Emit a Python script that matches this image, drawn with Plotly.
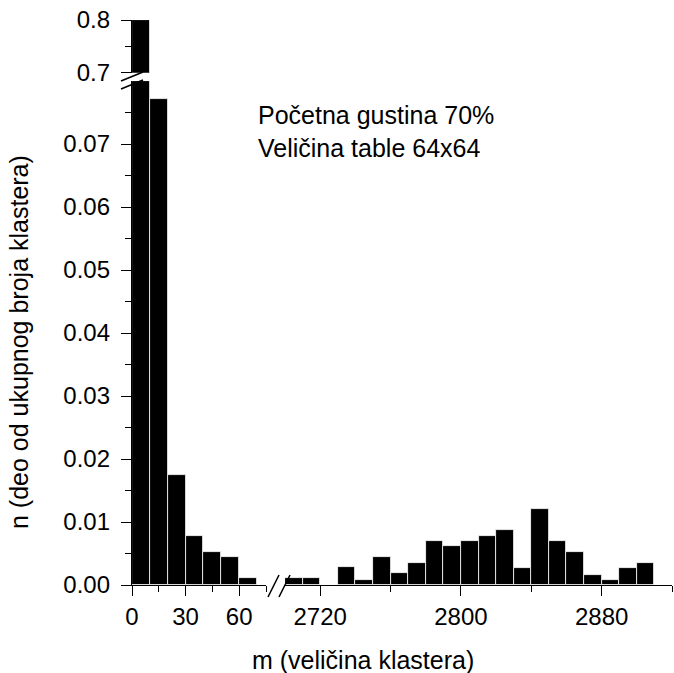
import plotly.graph_objects as go

# ---- data ----
left_bins = [5, 15, 25, 35, 45, 55, 65]
left_vals = [0.0800, 0.0771, 0.0174, 0.0078, 0.0052, 0.0044, 0.0011]
top_bins = [5]
top_vals = [0.80]
right_bins = [2705, 2715, 2725, 2735, 2745, 2755, 2765, 2775, 2785, 2795, 2805,
              2815, 2825, 2835, 2845, 2855, 2865, 2875, 2885, 2895, 2905, 2915]
right_vals = [0.0011, 0.0011, 0.0, 0.0028, 0.0008, 0.0044, 0.0019, 0.0035, 0.0070, 0.0062, 0.0070,
              0.0078, 0.0087, 0.0027, 0.0121, 0.0070, 0.0052, 0.0016, 0.0008, 0.0027, 0.0035, 0.0]
y_ticks_low = [0.00, 0.01, 0.02, 0.03, 0.04, 0.05, 0.06, 0.07]
y_ticks_low_minor = [0.005, 0.015, 0.025, 0.035, 0.045, 0.055, 0.065, 0.075]
y_ticks_high = [0.7, 0.8]
y_ticks_high_minor = [0.75]
x_ticks_left = [0, 30, 60]
x_ticks_left_minor = [15, 45, 75]
x_ticks_right = [2720, 2800, 2880]
x_ticks_right_minor = [2760, 2840, 2920]
bin_width = 10

W, H = 674, 673
L, R, T, B = 132, 2, 20, 88
pw, ph = W - L - R, H - T - B

def px(xp):
    return (xp - L) / pw

def py(yp):
    return (H - B - yp) / ph

dL = px(266)
dR = px(285)
dB = py(81)
dT = py(72.7)

FONT = "Liberation Sans, Arial, sans-serif"
bar_style = dict(marker=dict(color="black", line=dict(color="white", width=0.8)),
                 width=bin_width, showlegend=False, hoverinfo="x+y")

fig = go.Figure()
fig.add_trace(go.Bar(x=left_bins, y=left_vals, xaxis="x", yaxis="y", **bar_style))
fig.add_trace(go.Bar(x=right_bins, y=right_vals, xaxis="x2", yaxis="y", **bar_style))
fig.add_trace(go.Bar(x=top_bins, y=top_vals, xaxis="x3", yaxis="y2", **bar_style))

tick_common = dict(ticks="outside", ticklen=10, tickwidth=1.3, tickcolor="black",
                   showline=True, linecolor="black", linewidth=1.3,
                   showgrid=False, zeroline=False,
                   tickfont=dict(family=FONT, size=24, color="black"))
minor_common = dict(tickmode="array", ticks="outside", ticklen=6, tickwidth=1.3, tickcolor="black")

fig.update_layout(
    width=W, height=H,
    margin=dict(l=L, r=R, t=T, b=B),
    plot_bgcolor="white", paper_bgcolor="white",
    bargap=0,
    font=dict(family=FONT, color="black"),
    xaxis=dict(domain=[0, dL], range=[0, 75], anchor="y",
               tickmode="array", tickvals=x_ticks_left,
               minor=dict(tickvals=x_ticks_left_minor, **minor_common),
               **tick_common),
    xaxis2=dict(domain=[dR, 1], range=[2700, 2920], anchor="y",
                tickmode="array", tickvals=x_ticks_right,
                minor=dict(tickvals=x_ticks_right_minor, **minor_common),
                **tick_common),
    xaxis3=dict(domain=[0, dL], range=[0, 75], anchor="y2", visible=False),
    yaxis=dict(domain=[0, dB], range=[0, 0.08], anchor="x",
               tickmode="array", tickvals=y_ticks_low, tickformat=".2f",
               minor=dict(tickvals=y_ticks_low_minor, **minor_common),
               ticklabelstandoff=6,
               **tick_common),
    yaxis2=dict(domain=[dT, 1], range=[0.7, 0.8], anchor="x3",
                tickmode="array", tickvals=y_ticks_high, tickformat=".1f",
                minor=dict(tickvals=y_ticks_high_minor, **minor_common),
                ticklabelstandoff=6,
                **tick_common),
)

# axis titles
fig.add_annotation(text="m (veličina klastera)", xref="paper", yref="paper",
                   x=px(250), y=py(660), xanchor="left", yanchor="middle", showarrow=False,
                   font=dict(family=FONT, size=25, color="black"))
fig.add_annotation(text="n (deo od ukupnog broja klastera)", xref="paper", yref="paper",
                   x=px(19), y=py(342), xanchor="center", yanchor="middle", showarrow=False,
                   textangle=-90, font=dict(family=FONT, size=25, color="black"))
fig.add_annotation(text="Početna gustina 70%", xref="paper", yref="paper",
                   x=px(256), y=py(115), xanchor="left", yanchor="middle", showarrow=False,
                   font=dict(family=FONT, size=25, color="black"))
fig.add_annotation(text="Veličina table 64x64", xref="paper", yref="paper",
                   x=px(256), y=py(148), xanchor="left", yanchor="middle", showarrow=False,
                   font=dict(family=FONT, size=25, color="black"))

# break marks
line = dict(color="black", width=1.6)
for x0 in (268, 279):
    fig.add_shape(type="line", xref="paper", yref="paper",
                  x0=px(x0), y0=py(597), x1=px(x0 + 11), y1=py(575), line=line)
for y0 in (89, 81):
    fig.add_shape(type="line", xref="paper", yref="paper",
                  x0=px(121), y0=py(y0), x1=px(143), y1=py(y0 - 9), line=line)

fig.write_html("out.html")
